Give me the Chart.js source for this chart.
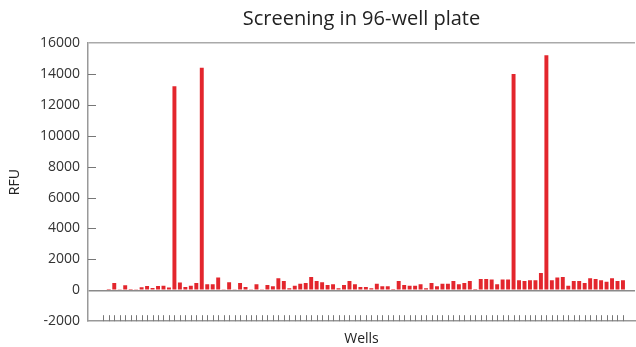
<!DOCTYPE html>
<html>
<head>
<meta charset="utf-8">
<script src="https://cdn.jsdelivr.net/npm/chart.js@4"></script>
<style>
  html, body { margin: 0; padding: 0; background: #fff; }
  #wrap { width: 636px; height: 347px; }
</style>
</head>
<body>
<div id="wrap"><canvas id="plateChart"></canvas></div>
<script>
// well numbers 1..96 and measured RFU per well
const wells = [
  1, 2, 3, 4, 5, 6, 7, 8, 9, 10, 11, 12, 13, 14, 15, 16,
  17, 18, 19, 20, 21, 22, 23, 24, 25, 26, 27, 28, 29, 30, 31, 32,
  33, 34, 35, 36, 37, 38, 39, 40, 41, 42, 43, 44, 45, 46, 47, 48,
  49, 50, 51, 52, 53, 54, 55, 56, 57, 58, 59, 60, 61, 62, 63, 64,
  65, 66, 67, 68, 69, 70, 71, 72, 73, 74, 75, 76, 77, 78, 79, 80,
  81, 82, 83, 84, 85, 86, 87, 88, 89, 90, 91, 92, 93, 94, 95, 96
];
const rfu = [
  50, 80, 470, 30, 320, 20, 60, 200, 280, 150, 280, 300, 180, 13200, 500, 220,
  300, 470, 14400, 390, 390, 820, 40, 520, 40, 470, 220, 30, 390, 30, 340, 260,
  780, 600, 130, 300, 430, 470, 860, 600, 520, 340, 390, 130, 340, 600, 390, 220,
  220, 130, 430, 260, 260, 80, 600, 340, 300, 300, 390, 130, 470, 260, 430, 430,
  600, 390, 470, 600, 80, 730, 730, 690, 390, 690, 690, 14000, 650, 600, 650, 650,
  1120, 15200, 650, 820, 860, 300, 600, 600, 470, 780, 730, 650, 560, 780, 600, 650
];
const yTicks = [-2000, 0, 2000, 4000, 6000, 8000, 10000, 12000, 14000, 16000];

// small inward tick marks on both axes
const innerTicks = {
  id: 'innerTicks',
  afterDatasetsDraw(chart) {
    const { ctx, chartArea, scales: { x, y } } = chart;
    ctx.save();
    ctx.strokeStyle = '#777';
    ctx.lineWidth = 1;
    ctx.beginPath();
    wells.forEach(w => {
      const px = Math.round(x.getPixelForValue(w)) + 0.5;
      ctx.moveTo(px, chartArea.bottom);
      ctx.lineTo(px, chartArea.bottom - 6);
    });
    yTicks.forEach(v => {
      if (v <= y.min || v >= y.max || v === 0) return;
      const py = Math.round(y.getPixelForValue(v)) + 0.5;
      ctx.moveTo(chartArea.left, py);
      ctx.lineTo(chartArea.left + 8, py);
    });
    ctx.stroke();
    ctx.restore();
  }
};

const ctx = document.getElementById('plateChart').getContext('2d');
new Chart(ctx, {
  type: 'bar',
  data: {
    datasets: [{
      label: 'RFU',
      data: wells.map((w, i) => ({ x: w, y: rfu[i] })),
      backgroundColor: '#e3262d',
      borderWidth: 0,
      barPercentage: 0.72,
      categoryPercentage: 1
    }]
  },
  options: {
    responsive: true,
    maintainAspectRatio: false,
    animation: false,
    layout: { padding: { left: 0, right: 1, top: 0, bottom: 0 } },
    plugins: {
      legend: { display: false },
      tooltip: { enabled: false },
      title: {
        display: true,
        fullSize: false,
        text: 'Screening in 96-well plate',
        color: '#222',
        font: { family: 'Open Sans', size: 20, weight: 'normal' },
        padding: { top: 7, bottom: 12 }
      }
    },
    scales: {
      x: {
        type: 'linear',
        offset: false,
        min: -1.8,
        max: 98.2,
        ticks: { display: false },
        grid: { display: false, drawTicks: false, offset: false },
        border: { color: '#999', width: 1.5 },
        title: {
          display: true,
          text: 'Wells',
          color: '#222',
          font: { family: 'Open Sans', size: 14 },
          padding: { top: 9, bottom: 0 }
        }
      },
      y: {
        min: -2000,
        max: 16000,
        afterBuildTicks: scale => { scale.ticks = yTicks.map(v => ({ value: v })); },
        afterFit: scale => { scale.width = 88; },
        ticks: {
          color: '#333',
          padding: 8,
          font: { family: 'Open Sans', size: 14 },
          callback: v => String(v)
        },
        grid: {
          drawTicks: false,
          lineWidth: 1.5,
          color: c => c.tick.value === 0 ? '#8a8a8a' : (c.tick.value === 16000 ? '#aaa' : 'rgba(0,0,0,0)')
        },
        border: { color: '#999', width: 1.5 },
        title: {
          display: true,
          text: 'RFU',
          color: '#222',
          font: { family: 'Open Sans', size: 14 },
          padding: { top: 7, bottom: 0 }
        }
      }
    }
  },
  plugins: [innerTicks]
});
</script>
</body>
</html>
